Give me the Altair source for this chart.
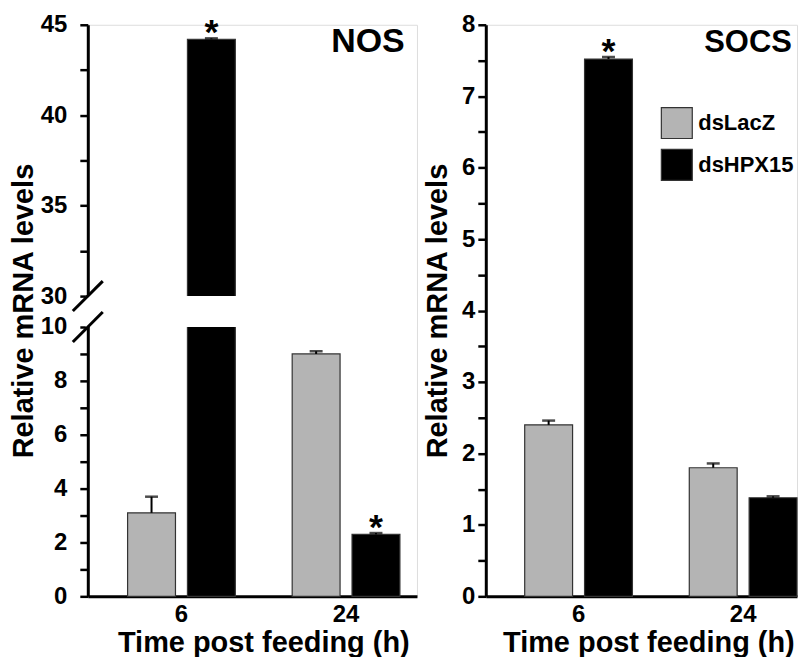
import altair as alt
import pandas as pd

# ---------------- data ----------------
times = ["6", "24"]
groups = ["dsLacZ", "dsHPX15"]

nos_mean = [3.1, 44.2, 9.0, 2.3]
nos_err = [0.6, 0.05, 0.1, 0.05]
nos_sig = [False, True, False, True]

socs_mean = [2.4, 7.52, 1.8, 1.38]
socs_err = [0.06, 0.03, 0.06, 0.02]
socs_sig = [False, True, False, False]

nos_major = [0, 2, 4, 6, 8, 10, 30, 35, 40, 45]
nos_ticks = [0, 1, 2, 3, 4, 5, 6, 7, 8, 9, 10, 30, 32.5, 35, 37.5, 40, 42.5, 45]
nos_break = [10, 30]
socs_major = [0, 1, 2, 3, 4, 5, 6, 7, 8]
socs_ticks = [0, 0.5, 1, 1.5, 2, 2.5, 3, 3.5, 4, 4.5, 5, 5.5, 6, 6.5, 7, 7.5, 8]

time_col = [t for t in times for g in groups]
group_col = [g for t in times for g in groups]


def frame(mean, err, sig):
    df = pd.DataFrame({"time": time_col, "group": group_col,
                       "mean": mean, "err": err, "sig": sig})
    df["top"] = df["mean"] + df["err"]
    return df


FONT = "Liberation Sans"
WL = 330
WR = 312
H = 573

color_scale = alt.Scale(domain=groups, range=["#b4b4b4", "#000000"])
off_scale = alt.Scale(domain=groups, paddingInner=0.2, paddingOuter=0)


def x_axis(title_x):
    return alt.Axis(title="Time post feeding (h)", labelAngle=0, ticks=False,
                    domainWidth=3, domainColor="black", zindex=0,
                    labelFont=FONT, labelFontSize=24, labelFontWeight="bold",
                    labelColor="black", labelPadding=6,
                    titleFont=FONT, titleFontSize=29, titleFontWeight="bold",
                    titleColor="black", titlePadding=2, titleX=title_x)


def y_axis(values, major, label_pad, title_pad):
    expr = "indexof(" + str(major) + ", datum.value) >= 0 ? datum.label : ''"
    return alt.Axis(title="Relative mRNA levels", values=values, tickCount=100,
                    labelExpr=expr, format="~g", labelOverlap=False, grid=False,
                    domainWidth=3, domainColor="black", tickWidth=2.5,
                    tickColor="black", tickSize=8, zindex=0,
                    labelFont=FONT, labelFontSize=24, labelFontWeight="bold",
                    labelColor="black", labelPadding=label_pad,
                    titleFont=FONT, titleFontSize=29, titleFontWeight="bold",
                    titleColor="black", titlePadding=title_pad)


def panel(df, x_scale, xaxis, yscale, yaxis, title, title_x, title_size, legend):
    base = alt.Chart(df)
    x = alt.X("time:N", scale=x_scale, axis=xaxis, sort=times)
    xo = alt.XOffset("group:N", scale=off_scale, sort=groups)
    bars = base.mark_bar(stroke="#333333", strokeWidth=1.2).encode(
        x=x, xOffset=xo,
        y=alt.Y("mean:Q", scale=yscale, axis=yaxis),
        color=alt.Color("group:N", scale=color_scale, legend=legend),
    )
    err = base.mark_rule(strokeWidth=2, color="black").encode(
        x=x, xOffset=xo, y="mean:Q", y2="top:Q")
    cap = base.mark_tick(thickness=2.5, size=13, color="black").encode(
        x=x, xOffset=xo, y="top:Q")
    star = base.transform_filter("datum.sig").mark_text(
        text="*", fontSize=36, fontWeight="bold", font=FONT, dy=6,
        baseline="alphabetic", color="black").encode(
        x=x, xOffset=xo, y="top:Q")
    ttl = alt.Chart(pd.DataFrame({"label": [title]})).mark_text(
        align="left", baseline="alphabetic", fontSize=title_size, fontWeight="bold",
        font=FONT, color="black").encode(
        text="label:N", x=alt.value(title_x), y=alt.value(27))
    return [bars, err, cap, star], ttl


# ---------------- NOS (broken axis) ----------------
x_left = alt.Scale(domain=times, paddingInner=0.3455, paddingOuter=0.1727, align=0.70)
nos_scale = alt.Scale(domain=[0, 10, 30, 45], range=[H, H - 270, 272, 0], nice=False)
nos_layers, nos_title = panel(frame(nos_mean, nos_err, nos_sig), x_left, x_axis(176),
                              nos_scale, y_axis(nos_ticks, nos_major, 13, 2),
                              "NOS", 244, 34, None)
gap = alt.Chart(pd.DataFrame({"lo": [nos_break[0]], "hi": [nos_break[1]]})).mark_rect(
    color="white").encode(x=alt.value(-2), x2=alt.value(WL), y="lo:Q", y2="hi:Q")
slash = alt.Chart(pd.DataFrame({"v": nos_break})).mark_rule(
    strokeWidth=3, color="black", xOffset=-15, x2Offset=15, yOffset=15, y2Offset=-15
).encode(x=alt.value(0), x2=alt.value(0), y="v:Q", y2="v:Q")
left = alt.layer(*nos_layers, gap, slash, nos_title).properties(width=WL, height=H)

# ---------------- SOCS ----------------
x_right = alt.Scale(domain=times, paddingInner=0.3455, paddingOuter=0.1182, align=1.0)
socs_scale = alt.Scale(domain=[0, 8], nice=False)
legend = alt.Legend(orient="none", legendX=175, legendY=82, title=None,
                    symbolType="square", symbolSize=961, symbolStrokeWidth=1.2,
                    symbolStrokeColor="#333333", labelFont=FONT, labelFontSize=22,
                    labelFontWeight="bold", labelColor="black", rowPadding=5,
                    labelOffset=5, labelLimit=300)
socs_layers, socs_title = panel(frame(socs_mean, socs_err, socs_sig), x_right, x_axis(163),
                                socs_scale, y_axis(socs_ticks, socs_major, 3, 9),
                                "SOCS", 219, 31, legend)
right = alt.layer(*socs_layers, socs_title).properties(width=WR, height=H)

chart = alt.hconcat(left, right, spacing=69, bounds="flush").resolve_legend(
    color="independent").properties(
    padding={"left": 0, "top": 3, "right": 0, "bottom": 0}
).configure_view(stroke=None).configure(font=FONT)

chart.save("out.html", embed_options={"renderer": "svg", "actions": False})
